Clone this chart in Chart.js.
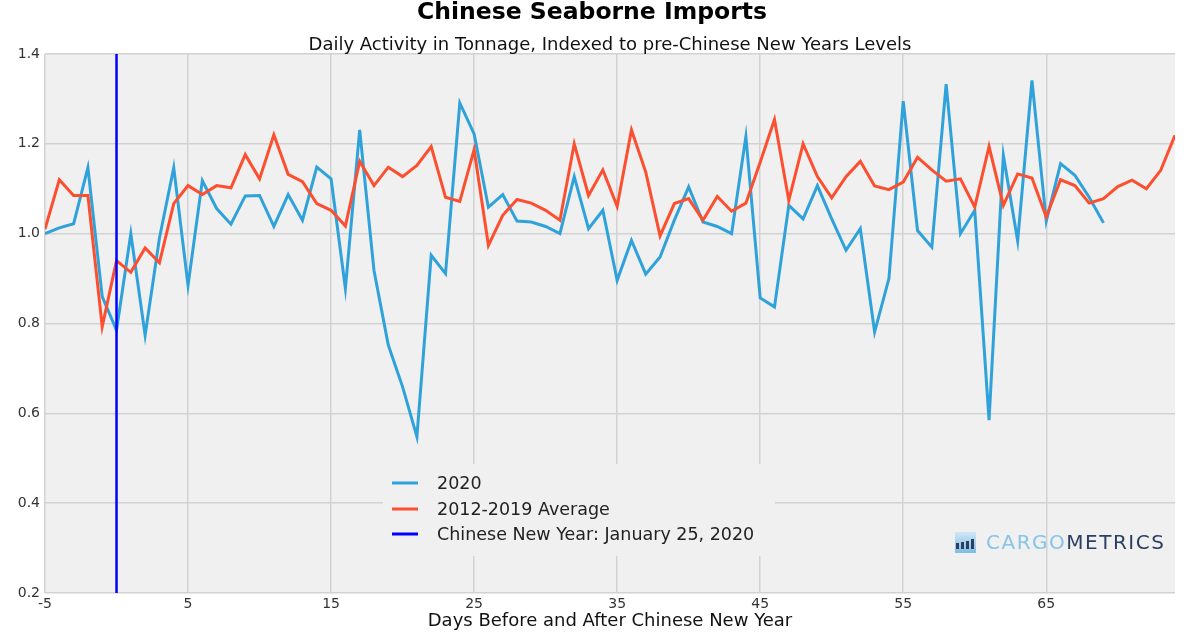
<!DOCTYPE html>
<html><head><meta charset="utf-8">
<script src="https://cdn.jsdelivr.net/npm/chart.js@4"></script>
<style>html,body{margin:0;padding:0;background:#fff}canvas{display:block}</style>
</head><body>
<canvas id="c" width="1200" height="632"></canvas>
<script>
// ---- data ----
const daysAvg = [-5,-4,-3,-2,-1,0,1,2,3,4,5,6,7,8,9,10,11,12,13,14,15,16,17,18,19,20,21,22,23,24,25,26,27,28,29,30,31,32,33,34,35,36,37,38,39,40,41,42,43,44,45,46,47,48,49,50,51,52,53,54,55,56,57,58,59,60,61,62,63,64,65,66,67,68,69,70,71,72,73,74];
const seriesAvg = [1.01,1.12,1.085,1.085,0.793,0.94,0.914,0.968,0.935,1.067,1.107,1.087,1.107,1.102,1.176,1.122,1.22,1.132,1.116,1.067,1.052,1.017,1.161,1.107,1.148,1.127,1.152,1.194,1.081,1.072,1.187,0.974,1.041,1.076,1.068,1.052,1.03,1.2,1.085,1.142,1.061,1.231,1.137,0.995,1.067,1.078,1.03,1.083,1.05,1.068,1.159,1.254,1.074,1.2,1.127,1.08,1.127,1.161,1.106,1.098,1.115,1.17,1.142,1.117,1.122,1.059,1.194,1.063,1.133,1.124,1.037,1.12,1.107,1.068,1.078,1.105,1.119,1.1,1.141,1.219];
const days2020 = [-5,-4,-3,-2,-1,0,1,2,3,4,5,6,7,8,9,10,11,12,13,14,15,16,17,18,19,20,21,22,23,24,25,26,27,28,29,30,31,32,33,34,35,36,37,38,39,40,41,42,43,44,45,46,47,48,49,50,51,52,53,54,55,56,57,58,59,60,61,62,63,64,65,66,67,68,69];
const series2020 = [1.0,1.013,1.022,1.147,0.86,0.785,1.0,0.774,0.99,1.147,0.885,1.118,1.056,1.021,1.084,1.085,1.016,1.087,1.03,1.148,1.122,0.878,1.231,0.918,0.752,0.659,0.548,0.952,0.911,1.291,1.222,1.059,1.087,1.028,1.026,1.016,1.0,1.127,1.011,1.052,0.896,0.985,0.91,0.948,1.03,1.104,1.026,1.016,1.0,1.216,0.857,0.837,1.063,1.033,1.107,1.033,0.963,1.011,0.781,0.9,1.295,1.007,0.97,1.333,1.0,1.052,0.585,1.174,0.984,1.341,1.028,1.156,1.13,1.081,1.024];
const cnyDay = 0;
const xTicks = [-5,5,15,25,35,45,55,65];
const yTicks = [0.2,0.4,0.6,0.8,1.0,1.2,1.4];
const xMin = -5, xMax = 74;
const labels = ['2020','2012-2019 Average','Chinese New Year: January 25, 2020'];
const titleText = 'Chinese Seaborne Imports';
const subtitleText = 'Daily Activity in Tonnage, Indexed to pre-Chinese New Years Levels';
const xTitleText = 'Days Before and After Chinese New Year';

const FONT = "'DejaVu Sans', sans-serif";
const pts = (xs, ys) => xs.map((x, i) => ({x: x, y: ys[i]}));

const bgPlugin = {
  id: 'bg',
  beforeDraw(chart) {
    const {ctx, chartArea: a} = chart;
    ctx.save();
    ctx.fillStyle = '#f0f0f0';
    ctx.fillRect(a.left, a.top, a.right - a.left, a.bottom - a.top);
    ctx.restore();
  },
  afterDraw(chart) {
    const ctx = chart.ctx;
    ctx.save();
    // titles
    ctx.fillStyle = '#000';
    ctx.textAlign = 'center';
    ctx.textBaseline = 'middle';
    ctx.font = 'bold 23.5px ' + FONT;
    ctx.fillText(titleText, 592, 13);
    ctx.fillStyle = '#111';
    ctx.font = '18px ' + FONT;
    ctx.fillText(subtitleText, 610, 45);
    // legend
    ctx.fillStyle = '#f0f0f0';
    ctx.fillRect(383, 464, 392, 92);
    const rows = [483, 509, 534];
    chart.data.datasets.forEach((ds, i) => {
      ctx.strokeStyle = ds.borderColor;
      ctx.lineWidth = 3;
      ctx.beginPath();
      ctx.moveTo(392, rows[i]);
      ctx.lineTo(418, rows[i]);
      ctx.stroke();
      ctx.fillStyle = '#222';
      ctx.textAlign = 'left';
      ctx.font = '17.5px ' + FONT;
      ctx.fillText(ds.label, 437, rows[i] + 1);
    });
    // logo
    const ix = 955, iy = 532;
    const g = ctx.createLinearGradient(ix, iy, ix, iy + 21);
    g.addColorStop(0, '#cfe6f5');
    g.addColorStop(1, '#7fbde3');
    ctx.fillStyle = g;
    ctx.fillRect(ix, iy, 21, 21);
    ctx.fillStyle = '#2b3f63';
    ctx.fillRect(ix + 1, iy + 11, 3, 6);
    ctx.fillRect(ix + 6, iy + 10, 3, 7);
    ctx.fillRect(ix + 11, iy + 9, 3, 8);
    ctx.fillRect(ix + 16, iy + 7, 3, 10);
    ctx.font = '20px ' + FONT;
    ctx.textAlign = 'left';
    try { ctx.letterSpacing = '1.5px'; } catch (e) {}
    ctx.fillStyle = '#86c4e8';
    ctx.fillText('CARGO', 986, 544);
    const w = ctx.measureText('CARGO').width;
    ctx.fillStyle = '#2b3f63';
    ctx.fillText('METRICS', 986 + w, 544);
    ctx.restore();
  }
};

new Chart(document.getElementById('c'), {
  type: 'line',
  data: {
    datasets: [
      {label: labels[0], data: pts(days2020, series2020), borderColor: '#30a2da', borderWidth: 3, pointRadius: 0, tension: 0, order: 3},
      {label: labels[1], data: pts(daysAvg, seriesAvg), borderColor: '#fc4f30', borderWidth: 3, pointRadius: 0, tension: 0, order: 2},
      {label: labels[2], data: pts([cnyDay, cnyDay], [yTicks[0], yTicks[yTicks.length - 1]]), borderColor: '#0000ff', borderWidth: 2.5, pointRadius: 0, order: 1}
    ]
  },
  options: {
    responsive: false,
    animation: false,
    events: [],
    layout: {padding: {top: 54, right: 25, left: 0, bottom: 0}},
    plugins: {legend: {display: false}, tooltip: {enabled: false}},
    scales: {
      x: {
        type: 'linear', min: xMin, max: xMax,
        afterBuildTicks: s => { s.ticks = xTicks.map(v => ({value: v})); },
        afterFit: s => { s.height = 39; },
        ticks: {font: {family: FONT, size: 14}, color: '#333', padding: 3, maxRotation: 0, autoSkip: false, callback: v => String(v)},
        grid: {color: '#d2d2d2', lineWidth: 1.5, drawTicks: false},
        border: {display: false},
        title: {display: true, text: xTitleText, font: {family: FONT, size: 18}, color: '#111', padding: {top: 0, bottom: 0}}
      },
      y: {
        min: yTicks[0], max: yTicks[yTicks.length - 1],
        afterBuildTicks: s => { s.ticks = yTicks.map(v => ({value: v})); },
        afterFit: s => { s.width = 45; },
        ticks: {font: {family: FONT, size: 14}, color: '#333', padding: 5, callback: v => Number(v).toFixed(1)},
        grid: {color: '#d2d2d2', lineWidth: 1.5, drawTicks: false},
        border: {display: false}
      }
    }
  },
  plugins: [bgPlugin]
});
</script>
</body></html>
